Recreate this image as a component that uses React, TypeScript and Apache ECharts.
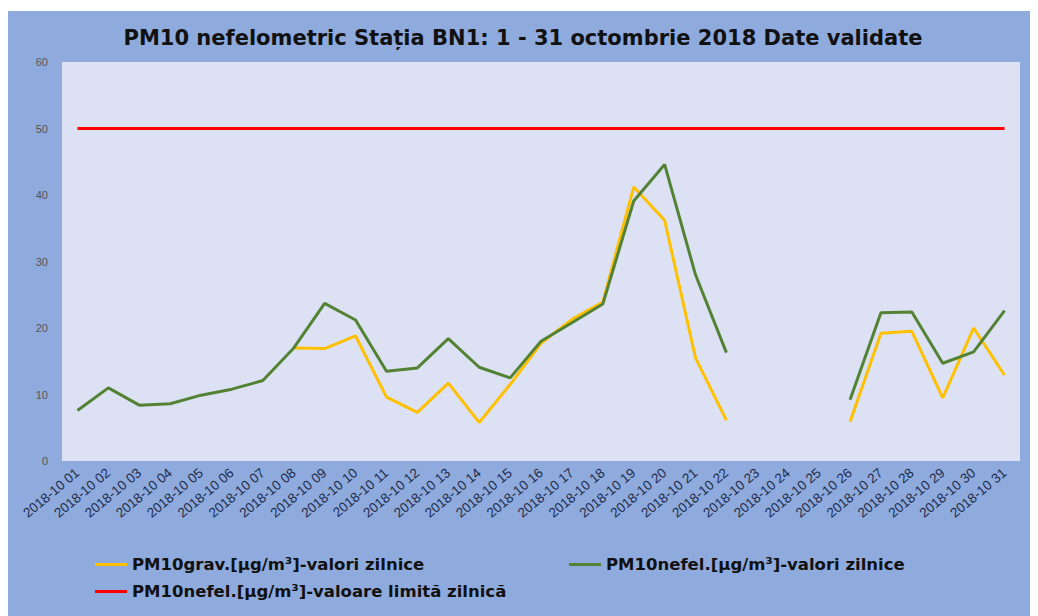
import React, { useEffect, useRef } from "react";
import * as echarts from "echarts";

const categories = Array.from({ length: 31 }, (_, i) => `2018-10 ${String(i + 1).padStart(2, "0")}`);

const gravValues: (number | null)[] = [
  null, null, null, null, null, null, null, 17.0, 16.9, 18.8,
  9.6, 7.3, 11.7, 5.8, 11.5, 17.7, 21.3, 23.9, 41.2, 36.2,
  15.5, 6.1, null, null, null, 5.9, 19.2, 19.5, 9.5, 20.0,
  12.9,
];

const nefelValues: (number | null)[] = [
  7.6, 11.0, 8.4, 8.6, 9.9, 10.8, 12.1, 17.0, 23.7, 21.2,
  13.5, 14.0, 18.4, 14.1, 12.5, 18.0, 20.8, 23.6, 39.1, 44.6,
  28.0, 16.3, null, null, null, 9.2, 22.3, 22.4, 14.7, 16.4,
  22.6,
];

const limitValues: number[] = categories.map(() => 50);

const yTicks = { min: 0, max: 60, interval: 10 };

const titleText = "PM10 nefelometric Stația BN1: 1 - 31 octombrie 2018 Date validate";
const nameGrav = "PM10grav.[µg/m³]-valori zilnice";
const nameNefel = "PM10nefel.[µg/m³]-valori zilnice";
const nameLimit = "PM10nefel.[µg/m³]-valoare limită zilnică";

export default function App() {
  const ref = useRef<HTMLDivElement>(null);
  useEffect(() => {
    if (!ref.current) return;
    const chart = echarts.init(ref.current, undefined, { renderer: "svg" });
    const legendText = { fontFamily: "DejaVu Sans, sans-serif", fontSize: 16.5, fontWeight: "bold" as const, color: "#111" };
    const legendCommon = {
      icon: "rect",
      itemWidth: 32,
      itemHeight: 3,
      itemGap: 4,
      textStyle: legendText,
      orient: "horizontal" as const,
    };
    chart.setOption({
      animation: false,
      backgroundColor: "#8FAADC",
      title: {
        text: titleText,
        left: "center",
        top: 11,
        textStyle: { fontFamily: "DejaVu Sans, sans-serif", fontSize: 21, fontWeight: "bold", color: "#111" },
      },
      grid: {
        left: 54,
        right: 18,
        top: 51,
        bottom: 155,
        show: true,
        backgroundColor: "#DCE2F4",
        borderWidth: 0,
      },
      legend: [
        { ...legendCommon, data: [nameGrav], left: 82, top: 540 },
        { ...legendCommon, data: [nameNefel], left: 556, top: 540 },
        { ...legendCommon, data: [nameLimit], left: 82, top: 567 },
      ],
      xAxis: {
        type: "category",
        data: categories,
        boundaryGap: true,
        axisLine: { show: false },
        axisTick: { show: false },
        axisLabel: {
          rotate: 40,
          interval: 0,
          fontSize: 13.5,
          color: "#1c2a4a",
          fontFamily: "Liberation Sans, Arial, sans-serif",
          margin: 10,
        },
      },
      yAxis: {
        type: "value",
        min: yTicks.min,
        max: yTicks.max,
        interval: yTicks.interval,
        axisLine: { show: false },
        axisTick: { show: false },
        splitLine: { show: false },
        axisLabel: { fontSize: 11, color: "#555", fontFamily: "Liberation Sans, Arial, sans-serif", margin: 14 },
      },
      series: [
        {
          name: nameGrav,
          type: "line",
          data: gravValues,
          showSymbol: false,
          symbol: "none",
          connectNulls: false,
          lineStyle: { color: "#FFC000", width: 3 },
          itemStyle: { color: "#FFC000" },
          z: 2,
        },
        {
          name: nameNefel,
          type: "line",
          data: nefelValues,
          showSymbol: false,
          symbol: "none",
          connectNulls: false,
          lineStyle: { color: "#548235", width: 3 },
          itemStyle: { color: "#548235" },
          z: 3,
        },
        {
          name: nameLimit,
          type: "line",
          data: limitValues,
          showSymbol: false,
          symbol: "none",
          lineStyle: { color: "#FF0000", width: 3 },
          itemStyle: { color: "#FF0000" },
          z: 4,
        },
      ],
    });
    return () => chart.dispose();
  }, []);
  return <div ref={ref} style={{ width: 1030, height: 605, marginTop: 3 }} />;
}
